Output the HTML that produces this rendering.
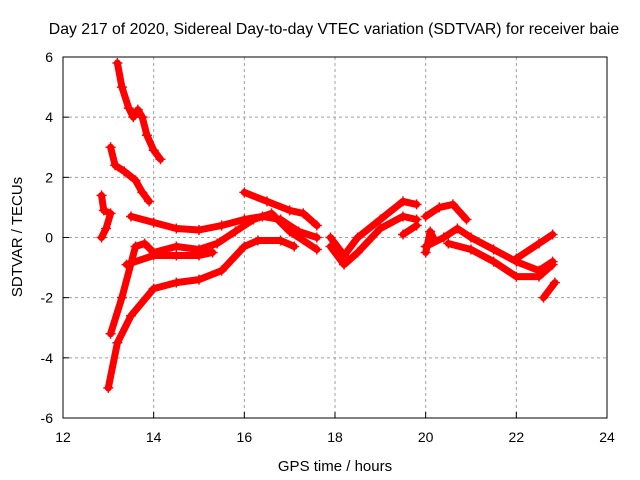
<!DOCTYPE html>
<html><head><meta charset="utf-8"><style>
body{margin:0;background:#fff}
svg{display:block;font-family:"Liberation Sans",sans-serif}
</style></head><body>
<svg id="chart" width="640" height="480" viewBox="0 0 640 480">
<rect x="0" y="0" width="640" height="480" fill="#fff"/>
<text x="334" y="34" text-anchor="middle" font-size="15.8">Day 217 of 2020, Sidereal Day-to-day VTEC variation (SDTVAR) for receiver baie</text>
<g id="grid"></g>
<g id="ticks"></g>
<g id="series"></g>
<rect x="63" y="57" width="544" height="361" fill="none" stroke="#000" stroke-width="1"/>
<text x="335" y="471" text-anchor="middle" font-size="15">GPS time / hours</text>
<text transform="translate(22,237) rotate(-90)" text-anchor="middle" font-size="15">SDTVAR / TECUs</text>
</svg>
<script>
const xTicks=[12,14,16,18,20,22,24];
const yTicks=[-6,-4,-2,0,2,4,6];
const track1=[[13.2,5.8],[13.3,5.0],[13.45,4.3],[13.55,4.0],[13.65,4.25],[13.75,4.0],[13.85,3.4],[14.0,2.9],[14.15,2.6]];
const track2=[[13.05,3.0],[13.15,2.4],[13.35,2.2],[13.6,1.9],[13.75,1.5],[13.9,1.2]];
const track3=[[12.85,1.4],[12.9,0.9],[13.05,0.8],[12.95,0.3],[12.85,0.0]];
const track4=[[13.5,0.7],[14.0,0.5],[14.5,0.3],[15.0,0.25],[15.5,0.4],[16.0,0.6],[16.4,0.7],[16.8,0.6],[17.2,0.2],[17.6,0.0]];
const track5=[[13.05,-3.2],[13.3,-2.0],[13.6,-0.3],[13.8,-0.2],[14.0,-0.5],[14.5,-0.3],[15.0,-0.4],[15.4,-0.2],[15.8,0.2],[16.2,0.6],[16.6,0.8],[17.0,0.2],[17.6,-0.4]];
const track6=[[13.4,-0.9],[14.0,-0.6],[14.5,-0.6],[15.0,-0.6],[15.3,-0.5]];
const track7=[[13.0,-5.0],[13.2,-3.5],[13.5,-2.6],[14.0,-1.7],[14.5,-1.5],[15.0,-1.4],[15.5,-1.1],[16.0,-0.3],[16.3,-0.1],[16.8,-0.1],[17.1,-0.3]];
const track8=[[16.0,1.5],[16.5,1.2],[17.0,0.9],[17.3,0.8],[17.6,0.4]];
const track9=[[17.9,0.0],[18.2,-0.6],[18.5,0.0],[19.0,0.6],[19.5,1.2],[19.8,1.1]];
const track10=[[17.9,-0.3],[18.2,-0.9],[18.5,-0.5],[19.0,0.3],[19.5,0.7],[19.8,0.6]];
const track11=[[19.5,0.1],[19.8,0.4]];
const track12=[[20.0,0.7],[20.3,1.0],[20.6,1.1],[20.9,0.6]];
const track13=[[20.0,-0.3],[20.4,0.0],[20.7,0.3],[21.0,0.0],[21.5,-0.4],[22.0,-0.8],[22.5,-1.1],[22.8,-0.8]];
const track14=[[20.5,-0.2],[21.0,-0.4],[21.5,-0.8],[22.0,-1.3],[22.5,-1.3],[22.8,-0.9]];
const track15=[[22.0,-0.7],[22.5,-0.2],[22.8,0.1]];
const track16=[[22.6,-2.0],[22.85,-1.5]];
const track17=[[20.0,-0.5],[20.1,0.2],[20.2,-0.1]];
const tracks=[track1,track2,track3,track4,track5,track6,track7,track8,track9,track10,track11,track12,track13,track14,track15,track16,track17];
const NS="http://www.w3.org/2000/svg";
const X0=63,X1=607,Y0=418,Y1=57;
function xs(h){return X0+(h-12)/12*(X1-X0);}
function ys(v){return Y0-(v+6)/12*(Y0-Y1);}
const grid=document.getElementById('grid'),ticks=document.getElementById('ticks'),series=document.getElementById('series');
function mk(t,a){const e=document.createElementNS(NS,t);for(const k in a)e.setAttribute(k,a[k]);return e;}
xTicks.forEach(t=>{const x=xs(t);
 if(t>12&&t<24){const g=mk('line',{x1:x,x2:x,y1:Y1,y2:Y0,stroke:'#a0a0a0','stroke-dasharray':'3,3'});
 
 grid.appendChild(g);}
 const tl=mk('line',{x1:x,x2:x,y1:Y0,y2:Y0-6,stroke:'#000'});
 
 ticks.appendChild(tl);
 const tx=mk('text',{x:x,y:Y0+24,'text-anchor':'middle','font-size':'14'});tx.textContent=t;
 
 ticks.appendChild(tx);});
yTicks.forEach(t=>{const y=ys(t);
 if(t>-6&&t<6){const g=mk('line',{x1:X0,x2:X1,y1:y,y2:y,stroke:'#a0a0a0','stroke-dasharray':'3,3'});
 
 grid.appendChild(g);}
 const tl=mk('line',{x1:X0,x2:X0+6,y1:y,y2:y,stroke:'#000'});
 
 ticks.appendChild(tl);
 const tx=mk('text',{x:X0-10,y:y+5,'text-anchor':'end','font-size':'14'});tx.textContent=t;
 
 ticks.appendChild(tx);});
tracks.forEach((tr,i)=>{
 const pts=tr.map(p=>xs(p[0]).toFixed(1)+','+ys(p[1]).toFixed(1)).join(' ');
 const pl=mk('polyline',{points:pts,fill:'none',stroke:'#ff0000','stroke-width':'7','stroke-linejoin':'round','stroke-linecap':'round'});
 
 series.appendChild(pl);
 tr.forEach(p=>{const x=xs(p[0]),y=ys(p[1]);
  const m=mk('path',{d:`M${x-5},${y}H${x+5}M${x},${y-5}V${y+5}`,stroke:'#ff0000','stroke-width':'1.5'});
  
  series.appendChild(m);});
});
</script>
</body></html>
